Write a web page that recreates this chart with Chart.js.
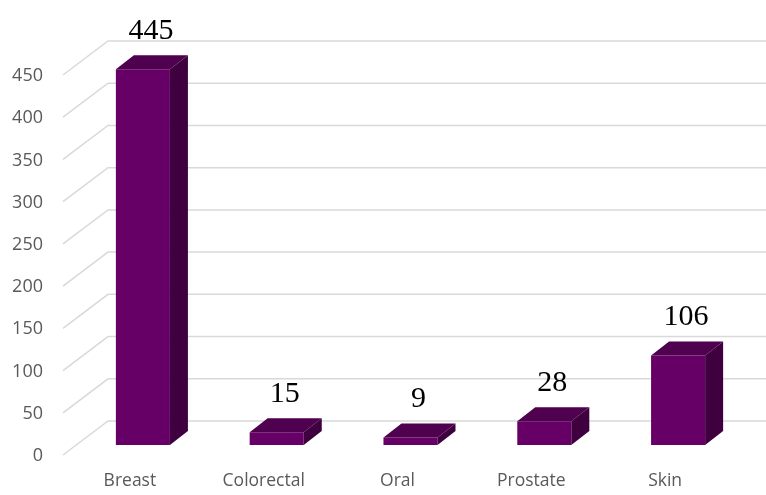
<!DOCTYPE html>
<html>
<head>
<meta charset="utf-8">
<script src="https://cdn.jsdelivr.net/npm/chart.js@4.4.1/dist/chart.umd.min.js"></script>
<style>
  html, body { margin: 0; padding: 0; background: #fff; }
</style>
</head>
<body>
<canvas id="chart" width="766" height="495"></canvas>
<script>
const categories = ["Breast", "Colorectal", "Oral", "Prostate", "Skin"];
const caseCounts = [445, 15, 9, 28, 106];
const yMin = 0;
const yMax = 450;
const yStep = 50;

const frontColor = "#660066";
const topColor = "#4f004f";
const sideColor = "#3f003f";
const gridColor = "#d9d9d9";
const labelColor = "#595959";

// Excel-style 3D look: bar depth offset and wall (grid) front/back offsets
const barDepth = { dx: 18, dy: -14 };
const wallFront = { dx: -13, dy: 10 };
const wallBack = { dx: 32, dy: -24 };

const wall3d = {
  id: "wall3d",
  beforeDatasetsDraw(chart) {
    const { ctx, chartArea, scales: { y } } = chart;
    ctx.save();
    ctx.strokeStyle = gridColor;
    ctx.lineWidth = 1.5;
    y.ticks.forEach((t) => {
      const py = y.getPixelForValue(t.value);
      ctx.beginPath();
      ctx.moveTo(chartArea.left + wallFront.dx, py + wallFront.dy);
      ctx.lineTo(chartArea.left + wallBack.dx, py + wallBack.dy);
      ctx.lineTo(chart.width, py + wallBack.dy);
      ctx.stroke();
    });
    ctx.restore();
  },
  afterDatasetsDraw(chart) {
    const { ctx } = chart;
    const values = chart.data.datasets[0].data;
    const { dx, dy } = barDepth;
    ctx.save();
    chart.getDatasetMeta(0).data.forEach((bar, i) => {
      const { x, y, base, width } = bar.getProps(["x", "y", "base", "width"], true);
      const l = x - width / 2;
      const r = x + width / 2;
      // top face
      ctx.fillStyle = topColor;
      ctx.beginPath();
      ctx.moveTo(l, y);
      ctx.lineTo(r, y);
      ctx.lineTo(r + dx, y + dy);
      ctx.lineTo(l + dx, y + dy);
      ctx.closePath();
      ctx.fill();
      // side face
      ctx.fillStyle = sideColor;
      ctx.beginPath();
      ctx.moveTo(r, y);
      ctx.lineTo(r + dx, y + dy);
      ctx.lineTo(r + dx, base + dy);
      ctx.lineTo(r, base);
      ctx.closePath();
      ctx.fill();
      // value label
      ctx.fillStyle = "#000";
      ctx.font = "30px 'Liberation Serif'";
      ctx.textAlign = "center";
      ctx.textBaseline = "alphabetic";
      ctx.fillText(String(values[i]), x + 8, y + dy - 16);
    });
    ctx.restore();
  }
};

new Chart(document.getElementById("chart"), {
  type: "bar",
  data: {
    labels: categories,
    datasets: [{
      data: caseCounts,
      backgroundColor: frontColor,
      barPercentage: 0.404,
      categoryPercentage: 1
    }]
  },
  options: {
    responsive: false,
    animation: false,
    layout: { padding: { top: 65, right: 21, left: 0, bottom: 0 } },
    plugins: { legend: { display: false }, tooltip: { enabled: false } },
    scales: {
      x: {
        grid: { display: false, drawTicks: false },
        border: { display: false },
        ticks: {
          color: labelColor,
          font: { family: "'Open Sans'", size: 17.5 },
          padding: 26,
          labelOffset: -13,
          maxRotation: 0
        },
        afterFit: (scale) => { scale.height = 50; }
      },
      y: {
        min: yMin,
        max: yMax,
        grid: { display: false, drawTicks: false },
        border: { display: false },
        ticks: {
          stepSize: yStep,
          color: labelColor,
          font: { family: "'Open Sans'", size: 18 },
          padding: 33,
          labelOffset: 11
        },
        afterFit: (scale) => { scale.width = 76; }
      }
    }
  },
  plugins: [wall3d]
});
</script>
</body>
</html>
